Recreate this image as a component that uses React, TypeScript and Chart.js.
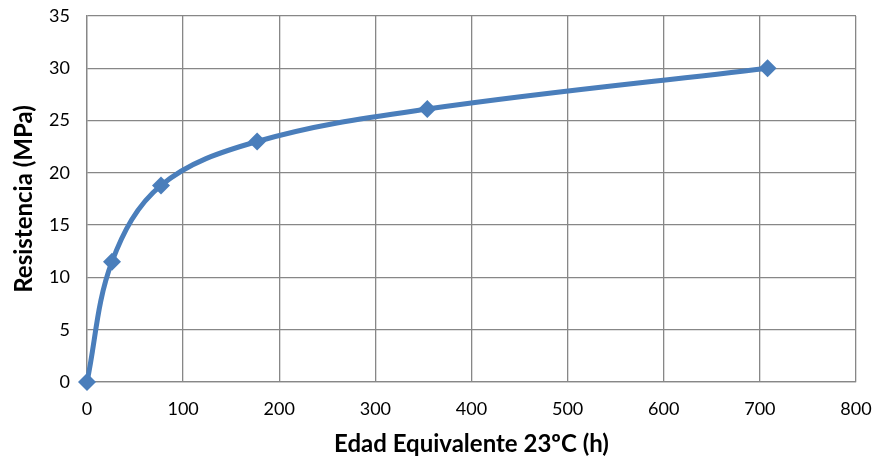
import React, { useEffect, useRef } from "react";
import { Chart, registerables } from "chart.js";

Chart.register(...registerables);

const edadHoras = [0, 26, 77, 177, 354, 708];
const resistenciaMPa = [0, 11.5, 18.8, 23.0, 26.1, 30.0];
const xTitle = "Edad Equivalente 23ºC (h)";
const yTitle = "Resistencia (MPa)";

export default function App() {
  const ref = useRef<HTMLCanvasElement | null>(null);

  useEffect(() => {
    if (!ref.current) return;
    const points = edadHoras.map((x, i) => ({ x, y: resistenciaMPa[i] }));
    const blue = "#4a7ebb";
    const grid = "#878787";
    const chart = new Chart(ref.current, {
      type: "scatter",
      data: {
        datasets: [
          {
            data: points,
            showLine: true,
            borderColor: blue,
            backgroundColor: blue,
            borderWidth: 5,
            tension: 0.36,
            pointStyle: "rectRot",
            pointRadius: 9,
            pointBorderWidth: 0,
            pointBackgroundColor: blue,
            clip: false,
          } as any,
        ],
      },
      options: {
        animation: false,
        responsive: true,
        maintainAspectRatio: false,
        layout: { padding: { top: 16, right: 19, bottom: 0, left: 0 } },
        plugins: { legend: { display: false }, tooltip: { enabled: false } },
        scales: {
          x: {
            type: "linear",
            min: 0,
            max: 800,
            ticks: {
              stepSize: 100,
              padding: 16,
              color: "#000",
              font: { family: "Lato", size: 18 },
            },
            grid: { color: grid, lineWidth: 1.3, drawTicks: false },
            border: { color: grid, width: 1.3 },
            title: {
              display: true,
              text: xTitle,
              color: "#000",
              font: { family: "Lato", size: 24, weight: "bold" },
              padding: { top: 0, bottom: 5 },
            },
            afterFit: (s: any) => {
              s.height = 82;
              s.paddingLeft = 0;
              s.paddingRight = 0;
            },
          },
          y: {
            type: "linear",
            min: 0,
            max: 35,
            ticks: {
              stepSize: 5,
              padding: 17,
              color: "#000",
              font: { family: "Lato", size: 18 },
            },
            grid: { color: grid, lineWidth: 1.3, drawTicks: false },
            border: { color: grid, width: 1.3 },
            title: {
              display: true,
              text: yTitle,
              color: "#000",
              font: { family: "Lato", size: 24, weight: "bold" },
              padding: { top: 10, bottom: 0 },
            },
            afterFit: (s: any) => {
              s.width = 87;
              s.paddingTop = 0;
              s.paddingBottom = 0;
            },
          },
        },
      },
    });
    return () => chart.destroy();
  }, []);

  return (
    <div style={{ position: "fixed", left: 0, top: 0, width: 875, height: 464, background: "#fff" }}>
      <canvas ref={ref} />
    </div>
  );
}
